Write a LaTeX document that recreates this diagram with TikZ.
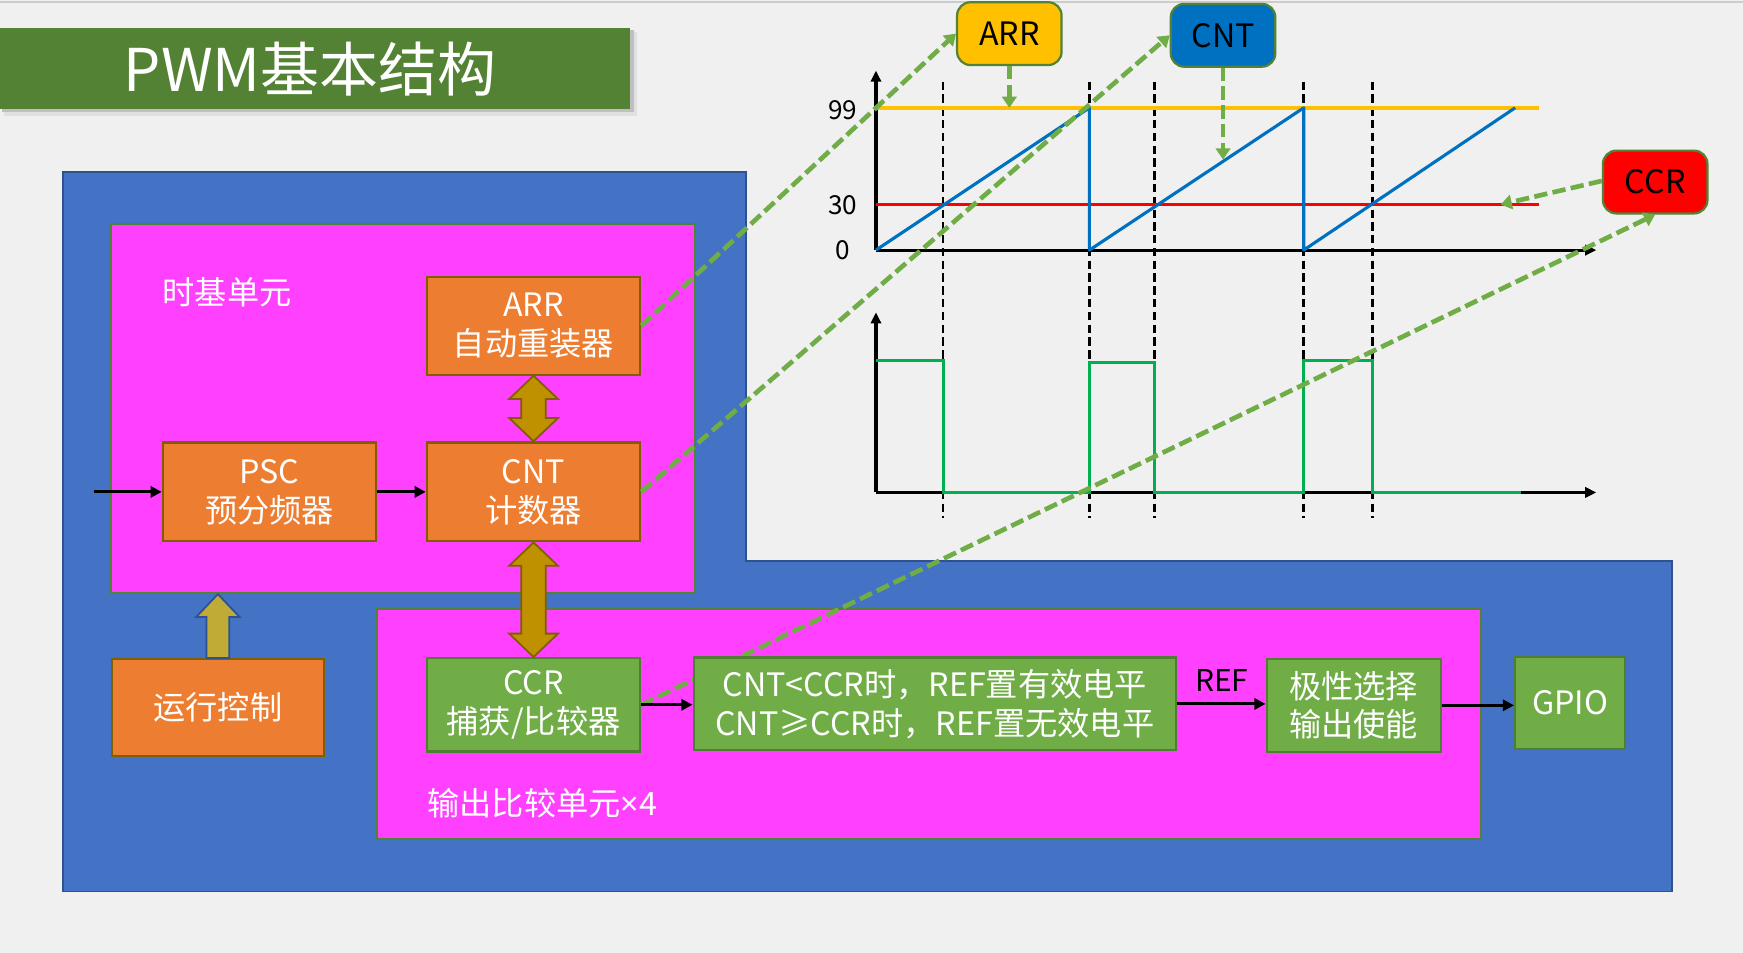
\documentclass[tikz,border=0pt]{standalone}
\usepackage{fontspec}
\setmainfont{Noto Sans CJK SC}
\newfontfamily\latinfont{Noto Sans}
\usetikzlibrary{arrows.meta,fit,calc}
\definecolor{bgc}{HTML}{F0F0F0}
\definecolor{titlegreen}{HTML}{548235}
\definecolor{blueregion}{HTML}{4472C4}
\definecolor{blueborder}{HTML}{2F528F}
\definecolor{magentafill}{HTML}{FF40FF}
\definecolor{unitline}{HTML}{548235}
\definecolor{orangefill}{HTML}{ED7D31}
\definecolor{orangeline}{HTML}{7F6000}
\definecolor{greenfill}{HTML}{70AD47}
\definecolor{greenline}{HTML}{507E32}
\definecolor{goldfill}{HTML}{BF9000}
\definecolor{runfill}{HTML}{BFAB35}
\definecolor{chartorange}{HTML}{FFC000}
\definecolor{chartred}{HTML}{FF0000}
\definecolor{chartblue}{HTML}{0070C0}
\definecolor{chartgreen}{HTML}{00B050}
\definecolor{linkgreen}{HTML}{70AD47}
\newcommand{\bxfont}{\fontsize{14.5}{17.5}\selectfont}
\begin{document}
\begin{tikzpicture}[x=0.5pt,y=-0.5pt,
  box/.style={draw, line width=1pt, inner sep=0pt, align=center, text=white, font=\bxfont},
  orangebox/.style={box, fill=orangefill, draw=orangeline},
  greenbox/.style={box, fill=greenfill, draw=greenline},
  unitbox/.style={draw=unitline, fill=magentafill, line width=1pt, inner sep=0pt},
  callout/.style={draw=unitline, line width=1pt, rounded corners=6pt, inner sep=0pt, font=\bxfont, text=black, minimum width=47pt, minimum height=28.25pt},
  link/.style={draw=linkgreen, line width=2.1pt, dash pattern=on 6pt off 2.4pt, -{Triangle[length=5pt,width=6.5pt]}},
  flow/.style={line width=1.4pt, -{Triangle[length=5pt,width=5pt]}},
  axisline/.style={line width=1.4pt, -{Triangle[length=5pt,width=4.6pt]}},
  guide/.style={line width=1.1pt, dash pattern=on 3.75pt off 2pt},
  goldarr/.style={fill=goldfill, draw=orangeline, line width=0.8pt, line join=miter},
  runarr/.style={fill=runfill, draw=blueborder, line width=0.8pt, line join=miter},
  lbl/.style={inner sep=0pt, text=white, font=\bxfont}
]
\useasboundingbox (0,0) rectangle (1568,857);
\fill[bgc] (0,0) rectangle (1568,857);
\draw[black!20, line width=0.8pt] (0,1.5) -- (1568,1.5);

% title
\fill[black!12] (4,29) rectangle (573,104);
\fill[black!25] (2,27) rectangle (570,101);
\node[fill=titlegreen, inner sep=0pt, fit={(0,25) (567,98)}] (title) {};
\node[text=white, font=\fontsize{26.5}{30}\selectfont, inner sep=0pt] (titletext) at (279,62) {PWM基本结构};

% blue region
\filldraw[fill=blueregion, draw=blueborder, line width=0.8pt]
  (57,155) -- (671,155) -- (671,505) -- (1504,505) -- (1504,802) -- (57,802) -- cycle;

% units
\node[unitbox, fit={(99.5,201.5) (625,533.5)}] (tb) {};
\node[lbl, anchor=west] (tblabel) at (146,263) {时基单元};
\node[unitbox, fit={(339,548) (1332,755)}] (oc) {};
\node[lbl, anchor=west] (oclabel) at (384,722.5) {输出比较单元{\latinfont ×}4};

% chart guides
\foreach \gx in {848.5,980,1038.6,1172.8,1234.5}
  \draw[guide] (\gx,73.5) -- (\gx,466);
% upper chart
\draw[axisline] (788,225) -- (788,63.5);
\draw[axisline] (788,225) -- (1436,225);
\draw[chartorange, line width=1.7pt] (788,97) -- (1384.5,97);
\draw[chartred, line width=1.7pt] (788,184) -- (1384.5,184);
\draw[chartblue, line width=1.4pt, line join=round]
  (788,225) -- (980,97) -- (980,225) -- (1172.8,97) -- (1172.8,225) -- (1363,97);
\node[font=\fontsize{11.75}{13}\selectfont, inner sep=0pt] (l99) at (758,99.5) {99};
\node[font=\fontsize{11.75}{13}\selectfont, inner sep=0pt] (l30) at (758,184.5) {30};
\node[font=\fontsize{11.75}{13}\selectfont, inner sep=0pt] (l0) at (758,225.5) {0};
% lower chart
\draw[axisline] (788,443) -- (788,281);
\draw[axisline] (788,443) -- (1436,443);
\draw[chartgreen, line width=1.5pt, line join=miter]
  (788,324.5) -- (848.5,324.5) -- (848.5,443) -- (980,443) -- (980,326) -- (1038.6,326)
  -- (1038.6,443) -- (1172.8,443) -- (1172.8,324) -- (1234.5,324) -- (1234.5,443) -- (1368,443);

% time base boxes
\node[orangebox, minimum width=96pt, minimum height=44pt] (ARR) at (480,293) {ARR\\自动重装器};
\node[orangebox, minimum width=96pt, minimum height=44.5pt] (CNT) at (480,442.5) {CNT\\计数器};
\node[orangebox, minimum width=96pt, minimum height=44.5pt] (PSC) at (242.5,442.5) {PSC\\预分频器};
\node[orangebox, minimum width=95.5pt, minimum height=43.5pt] (run) at (196,636.5) {运行控制};
\node[greenbox, minimum width=96pt, minimum height=42pt] (CCR) at (480,634) {CCR\\捕获/比较器};

% callouts
\node[callout, fill=chartorange] (cARR) at (908,30.25) {ARR};
\node[callout, fill=chartblue] (cCNT) at (1100.25,31.75) {CNT};
\node[callout, fill=chartred] (cCCR) at (1489,163.75) {CCR};

% fat arrows
\filldraw[goldarr] (ARR.south) -- ++(22,21) -- ++(-11,0) -- ($(CNT.north)+(11,-21)$) -- ++(11,0)
  -- (CNT.north) -- ++(-22,-21) -- ++(11,0) -- ($(ARR.south)+(-11,21)$) -- ++(-11,0) -- cycle;
\filldraw[goldarr] (CNT.south) -- ++(22,21) -- ++(-11,0) -- ($(CCR.north)+(11,-21)$) -- ++(11,0)
  -- (CCR.north) -- ++(-22,-21) -- ++(11,0) -- ($(CNT.south)+(-11,21)$) -- ++(-11,0) -- cycle;
\coordinate (runtip) at (run.north |- tb.south);
\filldraw[runarr] ($(run.north)+(-10.25,0)$) -- ($(runtip)+(-10.25,20.5)$) -- ++(-9.25,0) -- (runtip)
  -- ++(19.5,20.5) -- ++(-9.25,0) -- ($(run.north)+(10.25,0)$) -- cycle;

% dashed links
\coordinate (arrhit) at ($(cARR.south |- 0,97)$);
\coordinate (cnthit) at ($(cCNT.south |- 0,143.5)$);
\coordinate (ccrhit) at (1350,184);
\draw[link] (ARR.east) -- (cARR.west);
\draw[link] (CNT.east) -- (cCNT.west);
\draw[link] (CCR.east) -- (cCCR.south);
\draw[link] (cARR.south) -- (arrhit);
\draw[link] (cCNT.south) -- (cnthit);
\draw[link] ($(cCCR.west)+(0,-1)$) -- (ccrhit);

% output boxes
\node[greenbox, minimum width=217pt, minimum height=41.75pt] (cmp) at (841,633.25) {CNT<CCR时，REF置有效电平\\CNT≥CCR时，REF置无效电平};
\node[greenbox, minimum width=78.25pt, minimum height=42pt] (pol) at (1217.75,634.5) {极性选择\\输出使能};
\node[greenbox, minimum width=49.5pt, minimum height=41.5pt] (gpio) at (1412.5,632.5) {GPIO};

% flow arrows
\coordinate (clkin) at (85,442.5);
\draw[flow] (clkin) -- (PSC.west);
\draw[flow] (PSC.east) -- (CNT.west);
\draw[flow] (CCR.east) -- (CCR.east -| cmp.west);
\draw[flow] (cmp.east) -- (cmp.east -| pol.west);
\draw[flow] (pol.east) -- (pol.east -| gpio.west);
\node[font=\fontsize{13.5}{15}\selectfont, inner sep=0pt] (ref) at (1099,612) {REF};
\end{tikzpicture}
\end{document}
